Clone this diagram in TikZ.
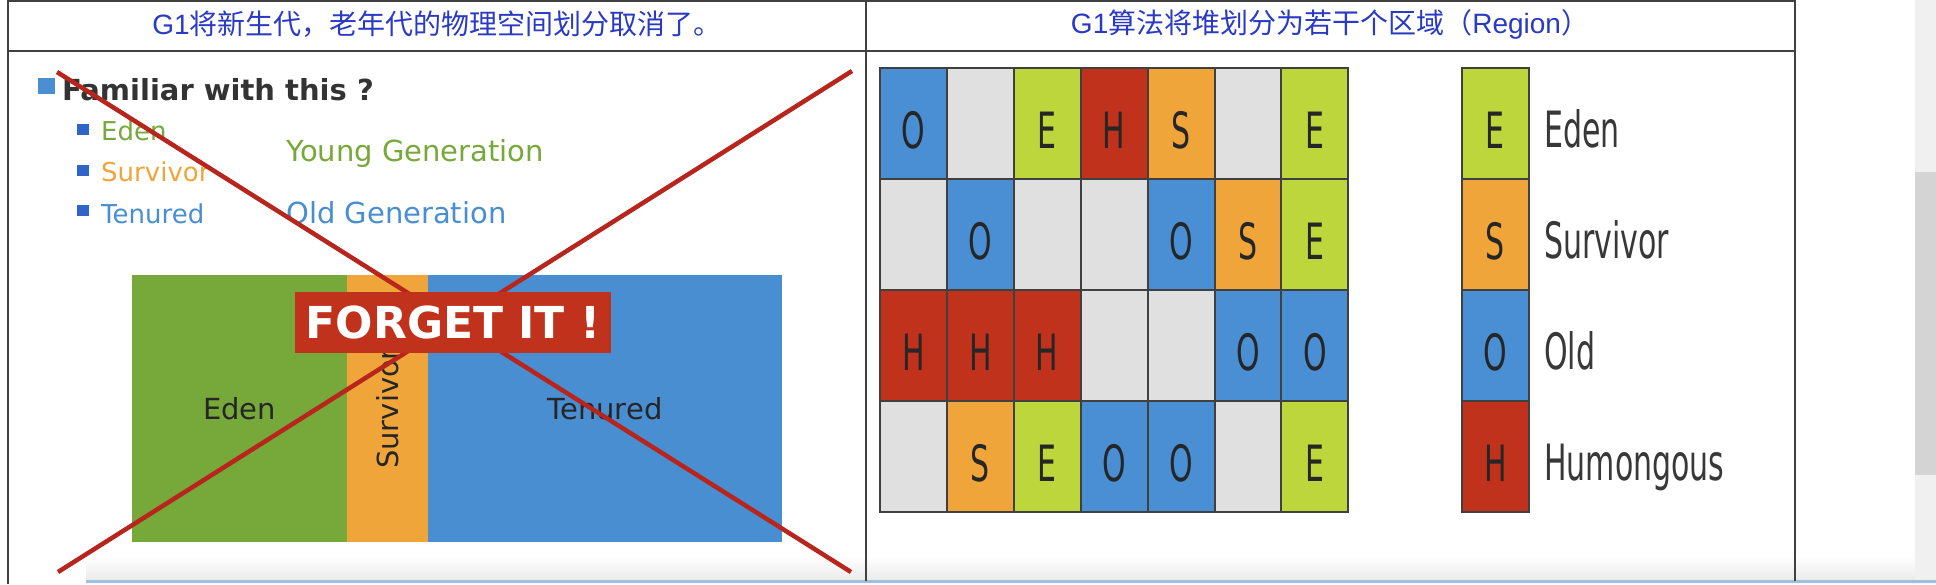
\documentclass[tikz,border=0pt]{standalone}
\usepackage{fontspec}
\setmainfont{DejaVu Sans}
\newfontfamily\narrowfont[FakeStretch=0.6]{DejaVu Sans}
\newfontfamily\cjkfont{Noto Sans CJK SC}
\newfontfamily\latinfont{Liberation Sans}
\usetikzlibrary{positioning}
\definecolor{edenc}{HTML}{BCD63C}
\definecolor{survc}{HTML}{F0A53A}
\definecolor{oldc}{HTML}{4A8FD4}
\definecolor{humc}{HTML}{C0321C}
\definecolor{freec}{HTML}{E0E0E0}
\definecolor{youngc}{HTML}{77A83A}
\definecolor{titlec}{HTML}{2A3AC4}
\definecolor{crossc}{HTML}{B8251C}
\definecolor{framec}{HTML}{404040}
\definecolor{bulletc}{HTML}{2F64C8}
\definecolor{barblue}{HTML}{4A8ED2}
\definecolor{shadec}{HTML}{9FBFDF}

\begin{document}
\begin{tikzpicture}[x=1pt,y=-1pt,
  px/.style={font=\fontsize{#1}{#1}\selectfont},
  title/.style={inner sep=0pt, text=titlec, font=\fontsize{28}{34}\selectfont},
  frame/.style={framec, line width=2pt},
  txt/.style={anchor=base west, inner sep=0pt},
  bar/.style={inner sep=0pt, text=black!85, font=\fontsize{29}{29}\selectfont},
  cross/.style={crossc, line width=4.5pt},
  region/.style={draw=framec, line width=2pt, anchor=north west, minimum width=66.9pt,
    minimum height=111pt, inner sep=0pt, text height=49pt, text depth=0pt,
    text=black!85, font=\narrowfont\fontsize{50}{50}\selectfont},
  cell/.style={fill=freec},
  cellE/.style={fill=edenc},
  cellS/.style={fill=survc},
  cellO/.style={fill=oldc},
  cellH/.style={fill=humc}]
\useasboundingbox (0,0) rectangle (1936,584);
\fill[white] (0,0) rectangle (1936,584);
\fill[black!6] (1915,0) rectangle (1936,584);
\fill[black!17] (1915,172) rectangle (1936,475);
\shade[top color=white, bottom color=black!8] (86,556) rectangle (1915,580);
\fill[blue!4] (86,582) rectangle (1936,584);
\draw[shadec, line width=2.5pt] (86,581.5) -- (1936,581.5);

\draw[frame] (8,584) -- (8,1) -- (1795,1) -- (1795,581);
\draw[frame] (8,51) -- (1795,51);
\draw[frame] (866,1) -- (866,581);

\node[title] (t1) at (437,24) {{\latinfont G1}{\cjkfont 将新生代，老年代的物理空间划分取消了。}};
\node[title] (t2) at (1330,24) {{\latinfont G1}{\cjkfont 算法将堆划分为若干个区域（}{\latinfont Region}{\cjkfont ）}};

\fill[oldc] (38,78) rectangle (55,94);
\node[txt, text=black!80, font=\fontsize{29}{29}\selectfont\bfseries] (q) at (62,100) {Familiar with this ?};
\fill[bulletc] (77,124) rectangle (89,135);
\fill[bulletc] (77,165) rectangle (89,176);
\fill[bulletc] (77,205) rectangle (89,216);
\node[txt, px=26, text=youngc] (l1) at (101,140) {Eden};
\node[txt, px=26, text=survc] (l2) at (101,181) {Survivor};
\node[txt, px=26, text=barblue] (l3) at (101,223) {Tenured};
\node[txt, px=29, text=youngc] (yg) at (286,161) {Young Generation};
\node[txt, px=29, text=barblue] (og) at (286,223) {Old Generation};

\node[bar, fill=youngc, minimum width=215pt, minimum height=267pt] (eden) at (239.5,408.5) {Eden};
\node[bar, fill=survc, rotate=90, minimum width=267pt, minimum height=81pt] (surv) at (387.5,408.5) {Survivor};
\node[bar, fill=barblue, minimum width=354pt, minimum height=267pt] (ten) at (605,408.5) {Tenured};

\coordinate (xa) at (57,72);
\coordinate (xb) at (851,572);
\coordinate (xc) at (852,71);
\coordinate (xd) at (58,572);
\draw[cross] (xa) -- (xb);
\draw[cross] (xc) -- (xd);
\node[fill=humc, text=white, minimum width=316pt, minimum height=61pt, inner sep=0pt,
  font=\fontsize{44}{44}\selectfont\bfseries] (forget) at (453,322.5) {FORGET IT !};

\foreach \row [count=\r from 0] in {{O,,E,H,S,,E},{,O,,,O,S,E},{H,H,H,,,O,O},{,S,E,O,O,,E}}
  \foreach \c [count=\k from 0] in \row
    \node[region, cell\c] (g\r\k) at (879+66.9*\k, 67+111*\r) {\c};

\foreach \c/\lbl [count=\r from 0] in {E/Eden,S/Survivor,O/Old,H/Humongous} {
  \node[region, cell\c] (key\c) at (1461, 67+111*\r) {\c};
  \node[txt, text=black!78, font=\narrowfont\fontsize{50}{50}\selectfont] (name\c) at (1544, 147+111*\r) {\lbl};
}
\end{tikzpicture}
\end{document}
